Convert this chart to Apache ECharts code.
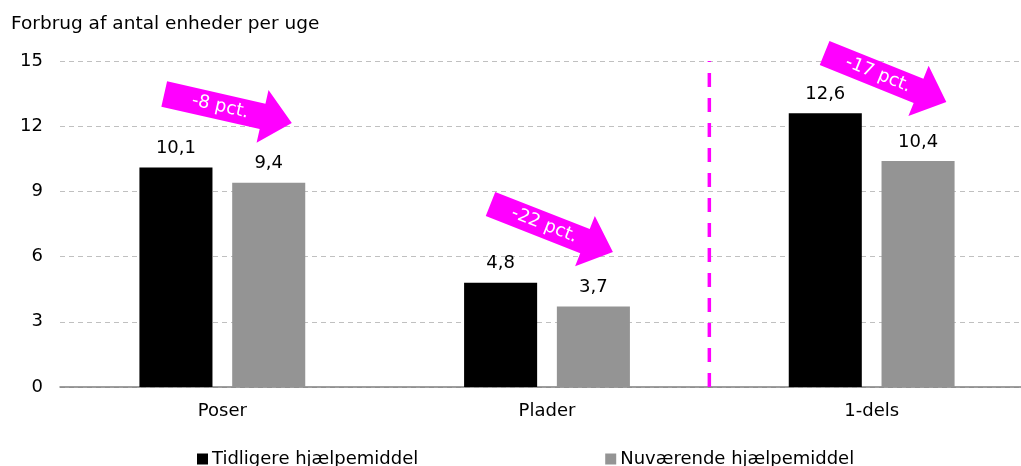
<!DOCTYPE html>
<html><head><meta charset="utf-8">
<script src="https://cdn.jsdelivr.net/npm/echarts@6/dist/echarts.min.js"></script>
<style>html,body{margin:0;padding:0;background:#fff;overflow:hidden}#c{width:1034px;height:466px}</style>
</head><body><div id="c"></div>
<script>
var categories = ['Poser', 'Plader', '1-dels'];
var seriesNames = ['Tidligere hjælpemiddel', 'Nuværende hjælpemiddel'];
var previous = [10.1, 4.8, 12.6];
var current = [9.4, 3.7, 10.4];
var yTicks = [0, 3, 6, 9, 12, 15];
var dividerAt = 2; // boundary between Plader and 1-dels (in category units)
var arrowLabels = ['-8 pct.', '-22 pct.', '-17 pct.'];
var arrowFrom = [[0.321, 13.48], [1.326, 8.42], [2.355, 15.37]];
var arrowTo = [[0.714, 12.15], [1.703, 6.21], [2.730, 13.11]];

var FONT = 'DejaVu Sans';
var chart = echarts.init(document.getElementById('c'));
function fmt(v){ return String(v).replace('.', ','); }

chart.setOption({
  animation: false,
  textStyle: {fontFamily: FONT},
  title: {text: 'Forbrug af antal enheder per uge', left: 6, top: 10,
    textStyle: {fontFamily: FONT, fontSize: 18.5, fontWeight: 'normal', color: '#000'}},
  grid: {left: 60, right: 0, top: 61, bottom: 79},
  legend: {data: seriesNames, left: 192, top: 445, icon: 'rect', itemWidth: 11, itemHeight: 11,
    itemGap: 187, textStyle: {fontFamily: FONT, fontSize: 18, color: '#000', padding: [0,0,0,-1]}},
  xAxis: [
    {type: 'category', data: categories,
      axisLine: {lineStyle: {color: '#7f7f7f', width: 1.5}}, axisTick: {show: false},
      axisLabel: {color: '#000', fontFamily: FONT, fontSize: 18, margin: 15}},
    {type: 'value', min: 0, max: categories.length, show: false}
  ],
  yAxis: {type: 'value', min: yTicks[0], max: yTicks[yTicks.length-1], interval: 3,
    axisLine: {show: false}, axisTick: {show: false},
    axisLabel: {color: '#000', fontFamily: FONT, fontSize: 18, margin: 17},
    splitLine: {lineStyle: {color: '#c0c0c0', type: [5, 4], width: 1}}},
  series: [
    {name: seriesNames[0], type: 'bar', data: previous, barWidth: '22.5%', barGap: '27%',
      itemStyle: {color: '#000000'},
      label: {show: true, position: 'top', distance: 10, color: '#000', fontFamily: FONT, fontSize: 18,
        formatter: function(p){ return fmt(p.value); }}},
    {name: seriesNames[1], type: 'bar', data: current, barWidth: '22.5%', barGap: '27%',
      itemStyle: {color: '#949494'},
      label: {show: true, position: 'top', distance: 10, color: '#000', fontFamily: FONT, fontSize: 18,
        formatter: function(p){ return fmt(p.value); }}},
    {name: 'divider', type: 'line', xAxisIndex: 1, data: [[dividerAt, yTicks[0]], [dividerAt, yTicks[yTicks.length-1]]],
      symbol: 'none', silent: true, lineStyle: {color: '#ff00ff', width: 3.5, type: [14, 11]}, z: 1},
    {name: 'arrows', type: 'custom', xAxisIndex: 1, yAxisIndex: 0, silent: true, clip: false, z: 5,
      data: arrowFrom.map(function(f, i){ return [f[0], f[1], arrowTo[i][0], arrowTo[i][1]]; }),
      encode: {x: [0, 2], y: [1, 3]},
      renderItem: function(params, api){
        var p1 = api.coord([api.value(0), api.value(1)]);
        var p2 = api.coord([api.value(2), api.value(3)]);
        var dx = p2[0]-p1[0], dy = p2[1]-p1[1], L = Math.sqrt(dx*dx+dy*dy);
        var ux = dx/L, uy = dy/L, nx = -uy, ny = ux;
        var hw = 13, hh = 27, hl = 30;
        var bx = p2[0]-ux*hl, by = p2[1]-uy*hl;
        var pts = [[p1[0]+nx*hw, p1[1]+ny*hw], [bx+nx*hw, by+ny*hw], [bx+nx*hh, by+ny*hh], p2,
          [bx-nx*hh, by-ny*hh], [bx-nx*hw, by-ny*hw], [p1[0]-nx*hw, p1[1]-ny*hw]];
        var ang = Math.atan2(dy, dx);
        var cx = (p1[0]+p2[0])/2 - ux*8, cy = (p1[1]+p2[1])/2 - uy*8;
        return {type: 'group', children: [
          {type: 'polygon', shape: {points: pts}, style: {fill: '#ff00ff'}},
          {type: 'text', x: cx, y: cy, rotation: -ang,
            style: {text: arrowLabels[params.dataIndex], fill: '#fff', font: '18px "DejaVu Sans"',
              align: 'center', verticalAlign: 'middle'}}
        ]};
      }}
  ]
});
</script></body></html>
